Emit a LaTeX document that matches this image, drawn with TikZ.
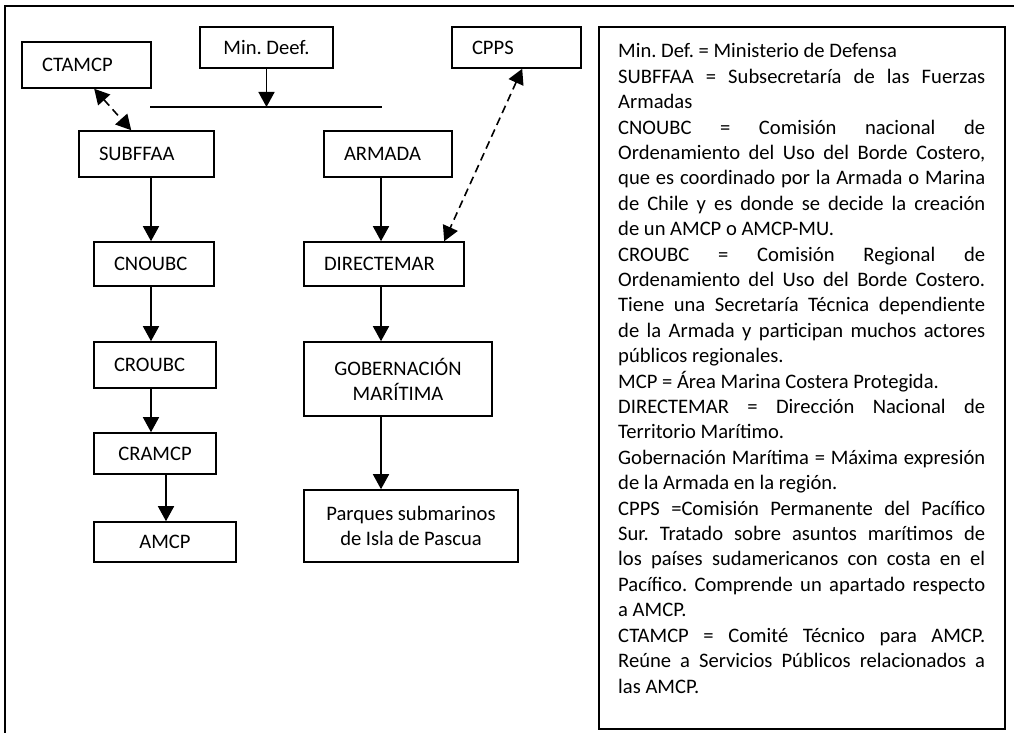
\documentclass[tikz,border=0pt]{standalone}
\usepackage{fontspec}
\setmainfont{Carlito}
\usetikzlibrary{arrows.meta}

\newcommand{\boxfont}{\fontsize{20.6}{25}\selectfont}
\newcommand{\glossfont}{\fontsize{20.6}{25.4}\selectfont}

\tikzset{
  unit/.style={draw, line width=1.6pt, inner sep=0pt, font=\boxfont},
  unitleft/.style={unit, inner xsep=20pt, align=left},
  unitmid/.style={unit, align=center},
  tip/.tip={Triangle[width=16pt,length=15pt]},
  flow/.style={line width=1.6pt, -tip},
  link/.style={line width=1.6pt, dash pattern=on 8pt off 5pt, tip-tip},
}

\begin{document}
\frenchspacing
\begin{tikzpicture}[x=1pt, y=-1pt]
\useasboundingbox (0,0) rectangle (1014,733);

% outer frame (open towards right and bottom)
\draw[line width=1.6pt] (1016,6) -- (5,6) -- (5,735);

% left column
\node[unitleft, minimum width=129pt, minimum height=46pt, text width=89pt] (ctamcp) at (86.5,65) {CTAMCP};
\node[unitmid, minimum width=133pt, minimum height=41pt] (minde) at (266.5,47.5) {Min. Deef.};
\node[unitleft, minimum width=129pt, minimum height=41pt, text width=89pt] (cpps) at (516.5,47.5) {CPPS};
\node[unitleft, minimum width=135pt, minimum height=46pt, text width=95pt] (subf) at (146.5,154) {SUBFFAA};
\node[unitleft, minimum width=120pt, minimum height=44pt, text width=80pt] (cnoubc) at (154,264) {CNOUBC};
\node[unitleft, minimum width=122pt, minimum height=46pt, text width=82pt] (croubc) at (155,365) {CROUBC};
\node[unitmid, minimum width=122pt, minimum height=41pt] (cramcp) at (155,453.5) {CRAMCP};
\node[unitmid, minimum width=142pt, minimum height=40pt] (amcp) at (165,542) {AMCP};

% right column
\node[unitleft, minimum width=128pt, minimum height=46pt, text width=88pt] (armada) at (388,154) {ARMADA};
\node[unitleft, minimum width=160pt, minimum height=44pt, text width=120pt] (direct) at (384,264) {DIRECTEMAR};
\node[unitmid, minimum width=188pt, minimum height=74pt] (gob) at (398,379) {GOBERNACIÓN\\MARÍTIMA};
\node[unitmid, minimum width=214pt, minimum height=72pt] (parques) at (411,526) {Parques submarinos\\de Isla de Pascua};

% bar below the ministry
\coordinate (busL) at (150,107);
\coordinate (busR) at (382,107);
\draw[line width=1.6pt] (busL) -- (busR);
\draw[flow] (minde.south) -- (minde.south |- busL);

% vertical guides for the arrows
\coordinate (colA) at (151,0);
\coordinate (colB) at (166,0);
\coordinate (colC) at (381,0);

\draw[flow] (subf.south -| colA) -- (cnoubc.north -| colA);
\draw[flow] (cnoubc.south -| colA) -- (croubc.north -| colA);
\draw[flow] (croubc.south -| colA) -- (cramcp.north -| colA);
\draw[flow] (cramcp.south -| colB) -- (amcp.north -| colB);

\draw[flow] (armada.south -| colC) -- (direct.north -| colC);
\draw[flow] (direct.south -| colC) -- (gob.north -| colC);
\draw[flow] (gob.south -| colC) -- (parques.north -| colC);

% dashed two-way links
\draw[link] ([xshift=73pt]ctamcp.south west) -- ([xshift=53pt]subf.north west);
\draw[link] ([xshift=71pt]cpps.south west) -- ([xshift=141pt]direct.north west);

% glossary
\node[draw, line width=1.6pt, minimum width=406pt, minimum height=702pt, inner sep=0pt] (gloss) at (802,378) {};
\node[anchor=base west, inner sep=0pt, text width=367pt, align=justify, font=\glossfont] (glosstext) at (618,58) {%
\hyphenpenalty=10000 \hbadness=10000 \exhyphenpenalty=10000
Min. Def. = Ministerio de Defensa\par
SUBFFAA = Subsecretaría de las Fuerzas\linebreak
Armadas\par
CNOUBC = Comisión nacional de\linebreak
Ordenamiento del Uso del Borde Costero,\linebreak
que es coordinado por la Armada o Marina\linebreak
de Chile y es donde se decide la creación\linebreak
de un AMCP o AMCP-MU.\par
CROUBC = Comisión Regional de\linebreak
Ordenamiento del Uso del Borde Costero.\linebreak
Tiene una Secretaría Técnica dependiente\linebreak
de la Armada y participan muchos actores\linebreak
públicos regionales.\par
MCP = Área Marina Costera Protegida.\par
DIRECTEMAR = Dirección Nacional de\linebreak
Territorio Marítimo.\par
Gobernación Marítima = Máxima expresión\linebreak
de la Armada en la región.\par
CPPS =Comisión Permanente del Pacífico\linebreak
Sur. Tratado sobre asuntos marítimos de\linebreak
los países sudamericanos con costa en el\linebreak
Pacífico. Comprende un apartado respecto\linebreak
a AMCP.\par
CTAMCP = Comité Técnico para AMCP.\linebreak
Reúne a Servicios Públicos relacionados a\linebreak
las AMCP.\par};
\end{tikzpicture}
\end{document}
